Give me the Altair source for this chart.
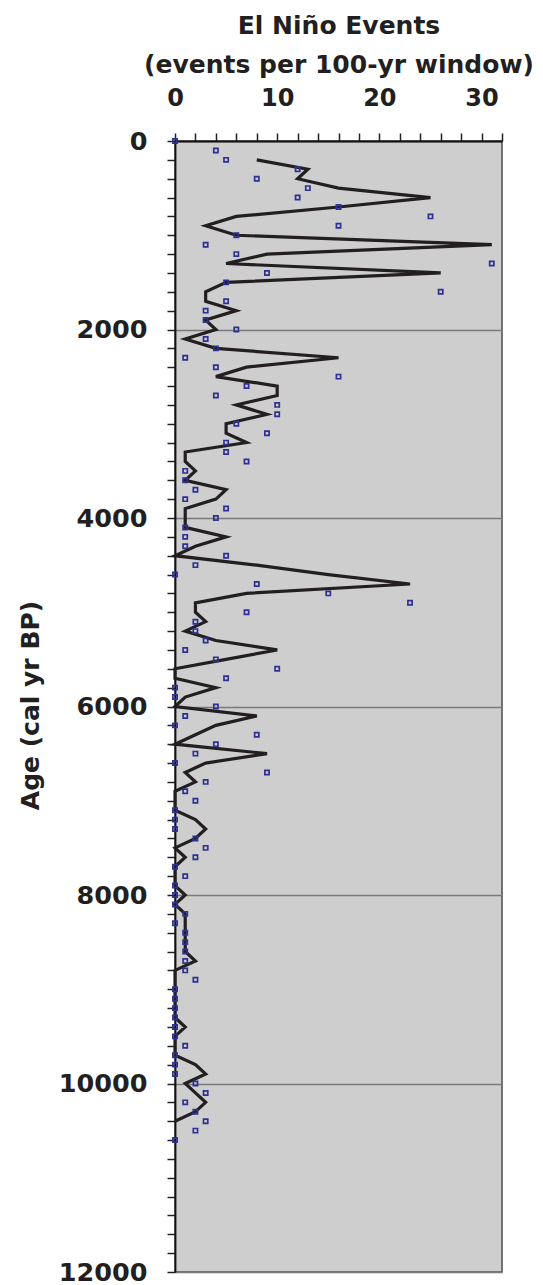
import altair as alt
import pandas as pd

# Ages (cal yr BP) of the 100-yr windows for the point series
point_ages = list(range(0, 10700, 100))
point_events = [
    0, 4, 5, 12, 8, 13, 12, 16, 25, 16, 6,
    3, 6, 31, 9, 5, 26, 5, 3, 3, 6,
    3, 4, 1, 4, 16, 7, 4, 10, 10, 6,
    9, 5, 5, 7, 1, 1, 2, 1, 5, 4,
    1, 1, 1, 5, 2, 0, 8, 15, 23, 7,
    2, 2, 3, 1, 4, 10, 5, 0, 0, 4,
    1, 0, 8, 4, 2, 0, 9, 3, 1, 2,
    0, 0, 0, 2, 3, 2, 0, 1, 0, 0,
    0, 1, 0, 1, 1, 1, 1, 1, 2, 0,
    0, 0, 0, 0, 0, 1, 0, 0, 0, 2,
    3, 1, 2, 3, 2, 0,
]

# Line series (running window), 200 to 10400 cal yr BP
line_ages = list(range(200, 10500, 100))
line_events = [
    8, 13, 12, 16, 25, 16, 6, 3, 6,
    31, 9, 5, 26, 5, 3, 3, 6, 3, 4,
    1, 4, 16, 7, 4, 10, 10, 6, 9, 5,
    5, 7, 1, 1, 2, 1, 5, 4, 1, 1,
    1, 5, 2, 0, 8, 15, 23, 7, 2, 2,
    3, 1, 4, 10, 5, 0, 0, 4, 1, 0,
    8, 4, 2, 0, 9, 3, 1, 2, 0, 0,
    0, 2, 3, 2, 0, 1, 0, 0, 0, 1,
    0, 1, 1, 1, 1, 1, 2, 0, 0, 0,
    0, 0, 0, 1, 0, 0, 0, 2, 3, 1,
    2, 3, 2, 0,
]

x_ticks = list(range(0, 33, 2))
y_ticks = list(range(0, 12001, 200))

points_df = pd.DataFrame({"age": point_ages, "events": point_events})
line_df = pd.DataFrame({"age": line_ages, "events": line_events})

FONT = "DejaVu Sans"
TXT = "#231f20"

x_enc = alt.X(
    "events:Q",
    scale=alt.Scale(domain=[0, 32], nice=False, zero=False),
    axis=alt.Axis(
        orient="top",
        values=x_ticks,
        format="d",
        labelExpr="datum.value % 10 === 0 ? datum.label : ''",
        labelFlush=False,
        labelOverlap=False,
        labelFont=FONT,
        labelFontWeight="bold",
        labelFontSize=24,
        labelColor=TXT,
        labelBaseline="alphabetic",
        labelPadding=28,
        tickSize=8,
        tickWidth=1.5,
        tickColor="#222222",
        domainColor="#111111",
        domainWidth=1.8,
        grid=False,
        title=["El Niño Events", "(events per 100-yr window)"],
        titleFont=FONT,
        titleFontWeight="bold",
        titleFontSize=25,
        titleColor=TXT,
        titleX=163.5,
        titleY=-108,
        titleAlign="center",
        titleBaseline="alphabetic",
        titleLineHeight=39,
        titleAngle=0,
    ),
)

y_enc = alt.Y(
    "age:Q",
    scale=alt.Scale(domain=[0, 12000], nice=False, reverse=True),
    axis=alt.Axis(
        orient="left",
        values=y_ticks,
        format="d",
        labelExpr="datum.value % 2000 === 0 ? datum.label : ''",
        labelOverlap=False,
        labelFlush=False,
        labelFont=FONT,
        labelFontWeight="bold",
        labelFontSize=25.5,
        labelColor=TXT,
        labelPadding=20,
        tickSize=8,
        tickWidth=1.5,
        tickColor="#222222",
        domainColor="#111111",
        domainWidth=1.8,
        grid=True,
        gridColor="#7a7a7a",
        gridWidth=1.6,
        gridOpacity={"condition": {"test": "datum.value % 2000 === 0", "value": 1}, "value": 0},
        title="Age (cal yr BP)",
        titleFont=FONT,
        titleFontWeight="bold",
        titleFontSize=25,
        titleColor=TXT,
        titleX=-137,
        titleY=564,
        titleAngle=270,
        titleAlign="center",
        titleBaseline="alphabetic",
    ),
)

line = alt.Chart(line_df).mark_line(
    color="#231f20", strokeWidth=3.2, strokeJoin="miter", clip=False
).encode(x=x_enc, y=y_enc, order=alt.Order("age:Q"))

pts = alt.Chart(points_df).mark_point(
    shape="square", filled=False, stroke="#2e3192", strokeWidth=1.7, size=18, opacity=1
).encode(x=x_enc, y=y_enc)

chart = (
    alt.layer(line, pts)
    .properties(
        width=327,
        height=1131,
        autosize=alt.AutoSizeParams(type="none"),
        padding={"left": 167, "top": 133, "right": 33, "bottom": 14},
        background="white",
    )
    .configure_view(fill="#cecece", stroke="#555555", strokeWidth=1.6)
)

chart.save("out.html", embed_options={"renderer": "svg", "actions": False})
